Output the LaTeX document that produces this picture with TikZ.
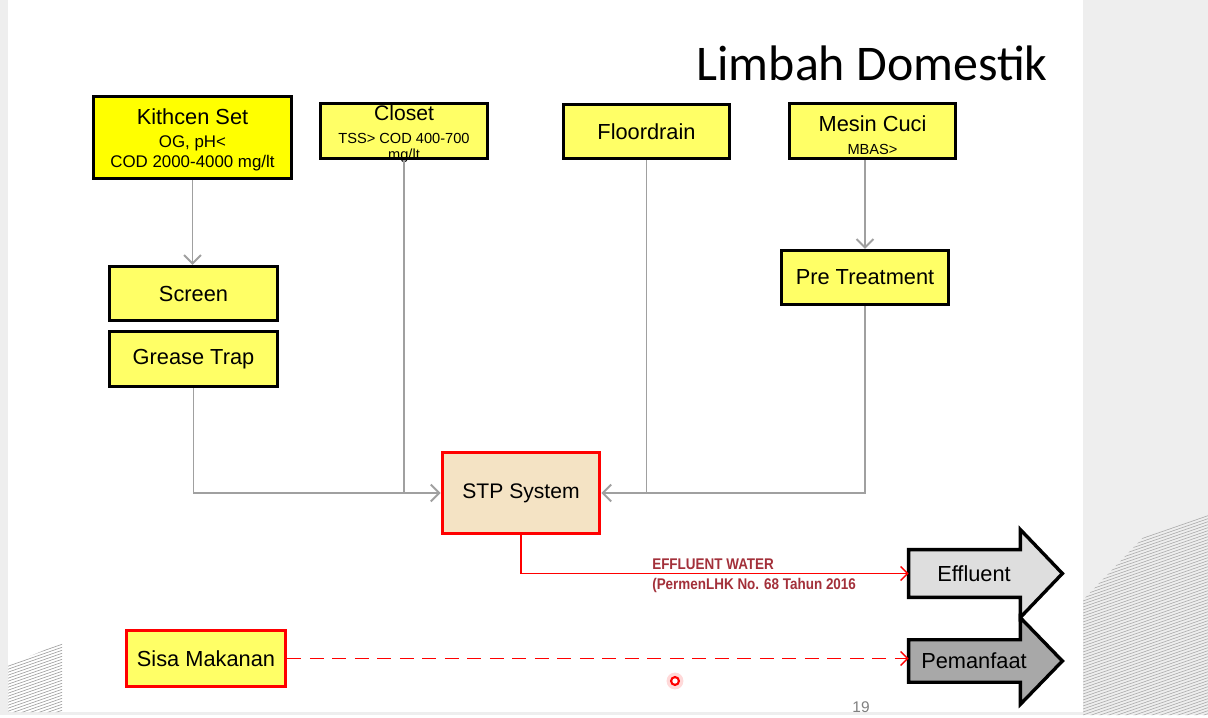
\documentclass[tikz,border=0pt]{standalone}
\usepackage{fontspec}
\setmainfont{Liberation Sans}
\newfontfamily\titlefont{Carlito}
\usepackage{graphicx}
\usepackage{tikz}
\usetikzlibrary{positioning}
\usetikzlibrary{arrows.meta}
\usetikzlibrary{calc}
\usepackage{xcolor}
\definecolor{kitchenyellow}{HTML}{FFFF00}
\definecolor{boxyellow}{HTML}{FFFF66}
\definecolor{stpbeige}{HTML}{F4E3C4}
\definecolor{linegray}{HTML}{A0A0A0}
\definecolor{effred}{HTML}{A3303A}
\definecolor{effgray}{HTML}{DEDEDE}
\definecolor{manfaatgray}{HTML}{A8A8A8}
\definecolor{slidegray}{HTML}{EEEEEE}
\newcommand{\subtxt}[1]{{\fontsize{12}{13}\selectfont #1}}
\newcommand{\subsmall}[1]{{\fontsize{10.4}{11}\selectfont #1}}
\newcommand{\narrow}[1]{\scalebox{0.87}[1]{#1}}

\begin{document}
\begin{tikzpicture}[x=0.025cm,y=-0.025cm,
    srcbox/.style={draw=black, line width=2.4pt, fill=boxyellow, inner sep=0pt, align=center, font=\fontsize{15.5}{14.2}\selectfont},
    boxtxt/.style={align=center, inner sep=0pt, font=\fontsize{15.5}{14.2}\selectfont},
    stpbox/.style={draw=red, line width=2.4pt, fill=stpbeige, inner sep=0pt, font=\fontsize{15}{17}\selectfont},
    flow/.style={draw=linegray, line width=1.4pt},
    tip/.style={-{Straight Barb[length=6pt,width=12pt]}},
    redflow/.style={draw=red, line width=1pt, -{Straight Barb[length=5pt,width=10pt]}},
    bigarrow/.style={draw=black, line width=2.4pt, line join=miter},
    lbl/.style={text=effred, font=\bfseries\fontsize{11}{12}\selectfont, anchor=west, inner sep=0pt}]

    % slide background
    \fill[slidegray] (0,0) rectangle (1208,715);
    \fill[white] (8,0) rectangle (1083,712);
    \begin{scope}
        \clip (8,665) -- (62,643) -- (62,712) -- (8,712) -- cycle;
        \foreach \k in {600,603,...,760}
            \draw[gray!75, line width=0.45pt] (0,\k) -- (80,\k-28);
    \end{scope}
    \begin{scope}
        \clip (1083,600) -- (1208,470) -- (1208,715) -- (1083,715) -- cycle;
        \foreach \k in {560,563,...,800}
            \draw[gray!65, line width=0.45pt] (1080,\k) -- (1210,\k-45);
    \end{scope}

    \node[font=\titlefont\fontsize{35.5}{40}\selectfont, anchor=east, inner sep=0pt] (title) at (1048,63) {Limbah Domestik};

    % sources
    \node[srcbox, fill=kitchenyellow, minimum width=4.95cm, minimum height=2.05cm] (kitchen) at (192.5,137.5) {};
    \node[boxtxt] (kitchentxt) at (192.5,139.5)
        {Kithcen Set\\[2pt]\subtxt{OG, pH<}\\\subtxt{COD 2000-4000 mg/lt}};
    \node[srcbox, minimum width=4.18cm, minimum height=1.38cm] (closet) at (404,131) {};
    \node[boxtxt, font=\fontsize{15}{11.3}\selectfont] (closettxt) at (404,134)
        {Closet\\[5.5pt]\subsmall{TSS> COD 400-700}\\\subsmall{mg/lt}};
    \node[srcbox, minimum width=4.15cm, minimum height=1.35cm] (floor) at (646.5,131.5) {Floordrain};
    \node[srcbox, minimum width=4.15cm, minimum height=1.38cm] (mesin) at (872.5,131) {};
    \node[boxtxt] (mesintxt) at (872.5,135) {Mesin Cuci\\[2pt]\subsmall{MBAS>}};

    % pre treatment
    \node[srcbox, minimum width=4.2cm, minimum height=1.35cm] (screen) at (193.5,293.5) {Screen};
    \node[srcbox, minimum width=4.2cm, minimum height=1.38cm] (grease) at (193.5,359) {Grease Trap};
    \node[srcbox, minimum width=4.18cm, minimum height=1.35cm] (pre) at (865,277.5) {Pre Treatment};

    \node[stpbox, minimum width=3.93cm, minimum height=2.03cm] (stp) at (521,493) {STP System};
    \node[srcbox, draw=red, minimum width=3.98cm, minimum height=1.4cm] (sisa) at (206,658.5) {Sisa Makanan};

    % outlets
    \node[minimum width=2.78cm, minimum height=1.18cm, inner sep=0pt] (effluent) at (964.5,573.5) {};
    \draw[bigarrow, fill=effgray] (effluent.north west) -- (effluent.north east) -- ($(effluent.north east)+(0,-20)$)
        -- ($(effluent.east)+(42,0)$) -- ($(effluent.south east)+(0,20)$) -- (effluent.south east) -- (effluent.south west) -- cycle;
    \node[font=\fontsize{15.5}{17}\selectfont] (effluenttxt) at (974,573.5) {Effluent};
    \node[minimum width=2.78cm, minimum height=1.05cm, inner sep=0pt] (pemanfaat) at (964.5,661) {};
    \draw[bigarrow, fill=manfaatgray] (pemanfaat.north west) -- (pemanfaat.north east) -- ($(pemanfaat.north east)+(0,-22)$)
        -- ($(pemanfaat.east)+(42,0)$) -- ($(pemanfaat.south east)+(0,22)$) -- (pemanfaat.south east) -- (pemanfaat.south west) -- cycle;
    \node[font=\fontsize{15.5}{17}\selectfont] (pemanfaattxt) at (974,661) {Pemanfaat};

    % flows
    \draw[flow, tip] (kitchen.south) -- (kitchen.south |- screen.north);
    \draw[flow, tip] (grease.south) |- (stp.west);
    \draw[flow] (closet.south) -- (closet.south |- stp.west);
    \draw[flow] (floor.south) -- (floor.south |- stp.east);
    \draw[flow, tip] (pre.north |- mesin.south) -- (pre.north);
    \draw[flow, tip] (pre.south) |- (stp.east);

    \draw[redflow] (stp.south) |- (effluent.west);
    \node[lbl] (efflbl) at (652,564) {\narrow{EFFLUENT WATER}};
    \node[lbl] (permenlbl) at (652,585) {\narrow{(PermenLHK No. 68 Tahun 2016}};
    \draw[redflow, dash pattern=on 10pt off 6pt] (sisa.east) -- (sisa.east -| pemanfaat.west);

    \node[text=gray, font=\fontsize{11}{12}\selectfont] (pagenum) at (861,707) {19};
    \fill[red!15] (675,681) circle (6pt);
    \draw[red, line width=1.5pt, fill=white] (675,681) circle (2.8pt);
\end{tikzpicture}
\end{document}
